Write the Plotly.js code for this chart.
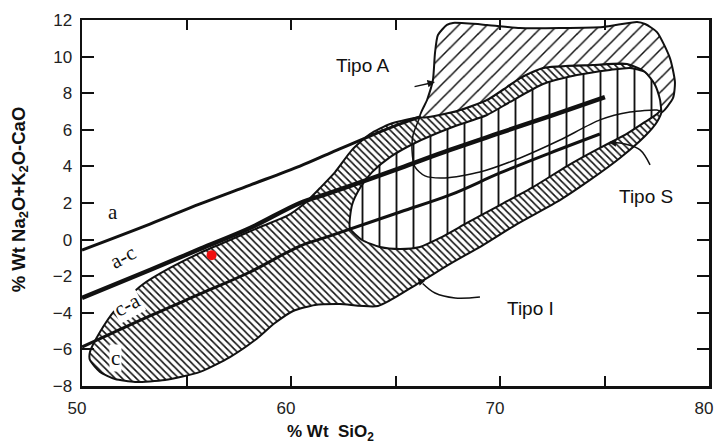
<!DOCTYPE html>
<html>
<head>
<meta charset="utf-8">
<script src="https://cdn.plot.ly/plotly-3.0.1.min.js"></script>
<style>html,body{margin:0;padding:0;background:#fff;}</style>
</head>
<body>
<div id="chart" style="width:717px;height:443px;"></div>
<script>
// ---- axis ticks ----
const xTickVals = [50, 55, 60, 65, 70, 75, 80];
const xTickText = ['50', '', '60', '', '70', '', '80'];
const yTickVals = [-8, -6, -4, -2, 0, 2, 4, 6, 8, 10, 12];

// ---- boundary lines (SiO2, MALI) ----
const lineA_x  = [50.00, 53.25, 55.65, 58.04, 60.43, 61.87, 63.78, 65.22, 66.17];
const lineA_y  = [-0.57, 0.85, 1.95, 2.98, 4.02, 4.73, 5.66, 6.32, 6.70];
const lineAC_x = [50.00, 53.25, 55.65, 58.04, 60.43, 61.87, 65.22, 67.61, 70.00, 72.39, 75.02];
const lineAC_y = [-3.19, -1.66, -0.51, 0.63, 2.00, 2.55, 3.91, 4.90, 5.83, 6.75, 7.79];
const lineCA_x = [50.00, 53.25, 55.65, 58.04, 60.43, 61.87, 65.22, 67.61, 70.00, 72.39, 74.78];
const lineCA_y = [-5.87, -4.17, -2.97, -1.77, -0.35, 0.20, 1.51, 2.44, 3.64, 4.73, 5.77];

// ---- Tipo I field ----
const tipoI_x = [50.38, 50.86, 51.58, 52.87, 54.21, 55.65, 57.08, 58.52, 59.81, 60.67, 61.39, 62.11, 62.92, 63.78, 64.74,
  66.17, 67.75, 69.38, 70.33, 70.96, 72.06, 74.45, 76.08, 76.84, 77.32, 77.66, 77.75,
  77.51, 76.94, 75.74, 74.31, 72.87, 70.81, 69.19, 67.61, 66.03, 64.16, 62.34, 61.15, 60.10, 59.23, 58.28, 57.08,
  55.65, 53.97, 52.54, 51.58, 50.86, 50.38, 50.38];
const tipoI_y = [-6.14, -5.05, -3.85, -2.48, -1.55, -0.73, -0.02, 0.69, 1.29, 2.00, 2.82, 3.69, 4.90, 5.77, 6.32,
  6.70, 6.97, 7.63, 8.34, 8.83, 9.38, 9.54, 9.60, 9.27, 8.61, 7.90, 7.08,
  6.43, 5.66, 4.46, 3.26, 2.16, 0.85, -0.30, -1.33, -2.43, -3.63, -3.52, -3.57, -3.90, -4.56, -5.49, -6.42,
  -7.23, -7.67, -7.78, -7.62, -7.23, -6.58, -6.14];

// ---- Tipo S field ----
const tipoS_x = [62.82, 62.92, 63.30, 63.88, 64.74, 65.93, 67.61, 69.38, 70.48, 72.06, 73.68, 75.26, 76.22, 76.94, 77.42,
  77.70, 77.75, 77.51, 76.94, 75.98, 74.78, 73.21, 71.58, 70.00, 68.42, 67.13, 66.17, 65.22, 64.26, 63.40, 62.82];
const tipoS_y = [0.63, 1.89, 2.82, 3.69, 4.51, 5.28, 6.10, 6.81, 7.52, 8.50, 8.99, 9.27, 9.38, 9.16, 8.61,
  7.90, 7.19, 6.86, 6.43, 5.72, 5.01, 4.02, 2.87, 1.89, 0.91, 0.09, -0.40, -0.51, -0.40, -0.02, 0.63];

// ---- Tipo A field ----
const tipoA_x = [67.46, 67.03, 66.89, 66.79, 66.51, 66.17, 67.75, 69.38, 70.33, 70.96, 72.06, 74.45, 76.08, 76.94, 77.42,
  77.66, 77.75, 78.28, 78.37, 78.13, 77.51, 76.94, 76.56, 74.93, 72.87, 70.96, 69.38, 67.75, 67.46];
const tipoA_y = [11.73, 11.18, 10.20, 8.72, 7.63, 6.70, 6.97, 7.63, 8.34, 8.83, 9.38, 9.54, 9.60, 9.16, 8.45,
  7.63, 6.97, 7.74, 8.61, 9.92, 11.34, 11.78, 11.89, 11.62, 11.56, 11.56, 11.73, 11.84, 11.73];
// outline of the A field continuing below
const loopA_x = [66.17, 65.84, 65.79, 65.93, 66.41, 67.37, 69.04, 70.96, 72.87, 74.78, 76.22, 77.51, 77.75];
const loopA_y = [6.70, 5.72, 4.90, 3.97, 3.48, 3.37, 3.69, 4.46, 5.44, 6.54, 6.97, 7.08, 6.97];

// ---- sample point ----
const sample_x = [56.2];
const sample_y = [-0.85];

// ---- leader lines ----
const leadS_x = [77.18, 76.70, 75.98, 75.40];
const leadS_y = [4.08, 4.90, 5.22, 5.30];
const leadI_x = [69.04, 67.85, 66.89, 66.30];
const leadI_y = [-3.14, -3.19, -2.92, -2.40];

const blk = '#111';
const traces = [
  {x: tipoI_x, y: tipoI_y, mode: 'lines', fill: 'toself', line: {color: blk, width: 2, shape: 'spline', smoothing: 0.6},
   fillcolor: 'white', fillpattern: {shape: '\\', size: 5, solidity: 0.32, fgcolor: blk, bgcolor: 'white'}},
  {x: tipoS_x, y: tipoS_y, mode: 'lines', fill: 'toself', line: {color: blk, width: 2, shape: 'spline', smoothing: 0.6},
   fillcolor: 'white', fillpattern: {shape: '|', size: 17, solidity: 0.11, fgcolor: blk, bgcolor: 'white'}},
  {x: tipoA_x, y: tipoA_y, mode: 'lines', fill: 'toself', line: {color: blk, width: 2, shape: 'spline', smoothing: 0.6},
   fillcolor: 'white', fillpattern: {shape: '/', size: 10, solidity: 0.15, fgcolor: blk, bgcolor: 'white'}},
  {x: loopA_x, y: loopA_y, mode: 'lines', line: {color: blk, width: 1.5, shape: 'spline', smoothing: 0.7}},
  {x: lineA_x, y: lineA_y, mode: 'lines', line: {color: blk, width: 3, shape: 'spline'}},
  {x: lineAC_x, y: lineAC_y, mode: 'lines', line: {color: blk, width: 4.5, shape: 'spline'}},
  {x: lineCA_x, y: lineCA_y, mode: 'lines', line: {color: blk, width: 3, shape: 'spline'}},
  {x: leadS_x, y: leadS_y, mode: 'lines', line: {color: blk, width: 1.5, shape: 'spline'}},
  {x: leadI_x, y: leadI_y, mode: 'lines', line: {color: blk, width: 1.5, shape: 'spline'}},
  {x: sample_x, y: sample_y, mode: 'markers', marker: {color: '#f01010', size: 10, symbol: 'circle'}}
];

const serif = {family: 'Liberation Serif, serif', size: 21, color: '#111'};
const sans = {family: 'Liberation Sans, Arial, sans-serif', size: 19, color: '#111'};
const titleFont = {family: 'Liberation Sans, Arial, sans-serif', size: 17, color: '#111'};
const annotations = [
  {x: 51.48, y: 1.51, text: 'a', showarrow: false, font: serif},
  {x: 51.96, y: -0.95, text: 'a-c', showarrow: false, font: serif, textangle: -28},
  {x: 52.15, y: -3.57, text: 'c-a', showarrow: false, font: serif, textangle: -28, bgcolor: 'white'},
  {x: 51.58, y: -6.47, text: 'c', showarrow: false, font: serif, bgcolor: 'white'},
  {x: 63.40, y: 9.49, text: 'Tipo A', showarrow: false, font: sans},
  {x: 76.99, y: 2.33, text: 'Tipo S', showarrow: false, font: sans},
  {x: 71.48, y: -3.74, text: 'Tipo I', showarrow: false, font: sans},
  {x: 66.89, y: 8.61, ax: 65.84, ay: 8.34, axref: 'x', ayref: 'y', xref: 'x', yref: 'y', text: '', showarrow: true,
   arrowhead: 2, arrowsize: 1, arrowwidth: 1.5, arrowcolor: blk},
  {x: 75.20, y: 5.32, ax: 75.60, ay: 5.28, axref: 'x', ayref: 'y', xref: 'x', yref: 'y', text: '', showarrow: true,
   arrowhead: 2, arrowsize: 1, arrowwidth: 1.5, arrowcolor: blk},
  {x: 66.05, y: -2.08, ax: 66.30, ay: -2.40, axref: 'x', ayref: 'y', xref: 'x', yref: 'y', text: '', showarrow: true,
   arrowhead: 2, arrowsize: 1, arrowwidth: 1.5, arrowcolor: blk},
  {xref: 'paper', yref: 'paper', x: 0.397, y: -0.128, xanchor: 'center', yanchor: 'middle', showarrow: false,
   text: '<b>% Wt  SiO<sub>2</sub></b>', font: titleFont},
  {xref: 'paper', yref: 'paper', x: -0.099, y: 0.51, xanchor: 'center', yanchor: 'middle', showarrow: false,
   textangle: -90, text: '<b>% Wt Na<sub>2</sub>O+K<sub>2</sub>O-CaO</b>', font: {family: titleFont.family, size: 18.5, color: '#111'}}
];

const tickFont = {family: 'Liberation Sans, Arial, sans-serif', size: 17, color: '#222'};
const layout = {
  width: 717, height: 443,
  margin: {l: 82, r: 8, t: 20, b: 57},
  paper_bgcolor: 'white', plot_bgcolor: 'white',
  showlegend: false,
  xaxis: {range: [50, 80], tickvals: xTickVals, ticktext: xTickText, ticks: 'inside', ticklen: 10, tickwidth: 2,
    tickcolor: blk, showline: true, linewidth: 2.5, linecolor: blk, mirror: 'ticks', showgrid: false, zeroline: false,
    tickfont: tickFont, ticklabelstandoff: 5, ticklabelshift: -5, ticklabeloverflow: 'allow'},
  yaxis: {range: [-8, 12], tickvals: yTickVals, ticks: 'inside', ticklen: 12, tickwidth: 2,
    tickcolor: blk, showline: true, linewidth: 2.5, linecolor: blk, mirror: 'ticks', showgrid: false, zeroline: false,
    tickfont: tickFont, ticklabelstandoff: 4},
  annotations: annotations
};
Plotly.newPlot('chart', traces, layout, {staticPlot: true, displayModeBar: false});
</script>
</body>
</html>
